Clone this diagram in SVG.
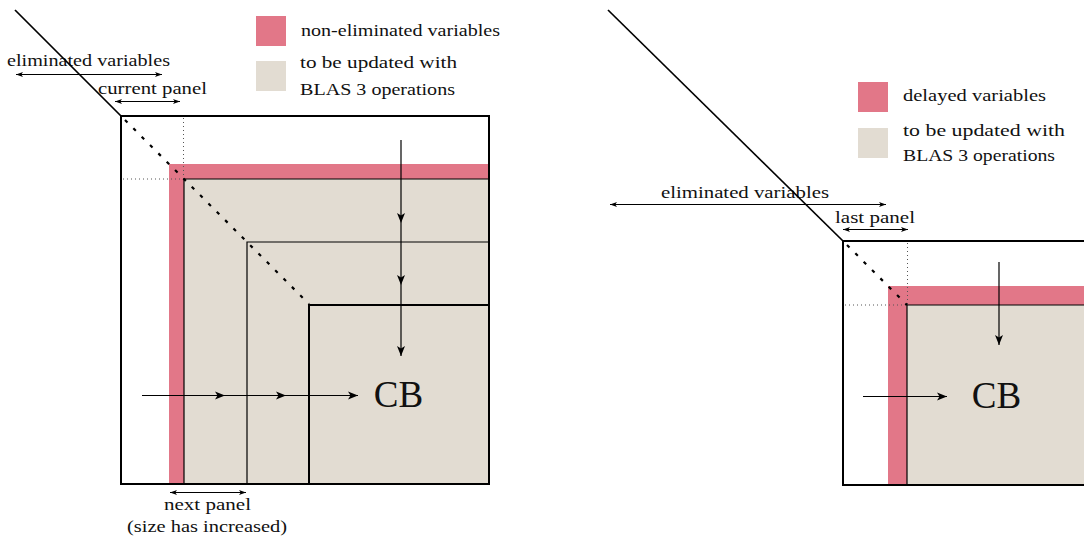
<svg xmlns="http://www.w3.org/2000/svg" width="1084" height="541" viewBox="0 0 1084 541">
<defs>
<style>
text{font-family:"Liberation Serif",serif;fill:#111;font-size:17.5px}
.cb{font-size:37px}
.thick{fill:none;stroke:#000;stroke-width:2}
.thin{fill:none;stroke:#000;stroke-width:1.2}
.pink{fill:#E27788}
.beige{fill:#E2DCD2}
.dash{fill:none;stroke:#000;stroke-width:2.2;stroke-dasharray:3.5 8.3}
.dot{fill:none;stroke:#555;stroke-width:1;stroke-dasharray:1 3}
.arr{fill:none;stroke:#000;stroke-width:1.2}
.dim{fill:none;stroke:#000;stroke-width:1}
.diag{fill:none;stroke:#000;stroke-width:1.7}
</style>
<marker id="ah" viewBox="0 0 10 10" refX="10" refY="5" markerWidth="10" markerHeight="10" markerUnits="userSpaceOnUse" orient="auto">
<path d="M0,1 L10,5 L0,9 L2.5,5 Z" fill="#000"/>
</marker>
<marker id="sh" viewBox="0 0 10 10" refX="10" refY="5" markerWidth="7" markerHeight="7" markerUnits="userSpaceOnUse" orient="auto-start-reverse">
<path d="M0,1.5 L10,5 L0,8.5 L2.5,5 Z" fill="#000"/>
</marker>
</defs>
<rect width="1084" height="541" fill="#fff"/>

<!-- LEFT PANEL -->
<g id="left-matrix">
<rect class="pink" x="169" y="164" width="320" height="320"/>
<rect class="beige" x="184" y="179" width="305" height="305"/>
<path class="thin" d="M184,484 V179 H489"/>
<path class="thin" d="M247,484 V242 H489"/>
<path class="thick" d="M309,484 V305 H489"/>
<line class="dot" x1="183.5" y1="118" x2="183.5" y2="179"/>
<line class="dot" x1="123" y1="179" x2="184" y2="179"/>
<line class="dash" x1="125" y1="120" x2="309" y2="304"/>
<rect class="thick" x="121" y="116" width="368" height="368"/>
<text class="cb" x="398.5" y="406.5" text-anchor="middle" font-family="Liberation Serif">CB</text>
</g>
<g id="left-legend" font-family="Liberation Serif">
<rect class="pink" x="256" y="16" width="30" height="30"/>
<text x="301" y="35.5" textLength="199" lengthAdjust="spacingAndGlyphs">non-eliminated variables</text>
<rect class="beige" x="256" y="61" width="30" height="30"/>
<text x="300" y="68" textLength="157" lengthAdjust="spacingAndGlyphs">to be updated with</text>
<text x="300" y="94.5" textLength="155" lengthAdjust="spacingAndGlyphs">BLAS 3 operations</text>
</g>
<g id="left-labels" font-family="Liberation Serif">
<text x="7" y="66" textLength="163" lengthAdjust="spacingAndGlyphs">eliminated variables</text>
<text x="98" y="94" textLength="109" lengthAdjust="spacingAndGlyphs">current panel</text>
<text x="164" y="509.5" textLength="87" lengthAdjust="spacingAndGlyphs">next panel</text>
<text x="127" y="532" textLength="160" lengthAdjust="spacingAndGlyphs">(size has increased)</text>
</g>

<!-- RIGHT PANEL -->
<g id="right-matrix">
<rect class="pink" x="888" y="286" width="200" height="200"/>
<rect class="beige" x="907" y="305" width="180" height="180"/>
<path class="thin" d="M907,485 V305 H1090"/>
<line class="dot" x1="907.5" y1="243" x2="907.5" y2="305"/>
<line class="dot" x1="845" y1="305" x2="907" y2="305"/>
<line class="dash" x1="847" y1="245" x2="907" y2="305"/>
<rect class="thick" x="843" y="241" width="260" height="244"/>
<text class="cb" x="996.5" y="408" text-anchor="middle" font-family="Liberation Serif">CB</text>
</g>
<g id="right-legend" font-family="Liberation Serif">
<rect class="pink" x="858" y="82" width="30" height="30"/>
<text x="903" y="101" textLength="143" lengthAdjust="spacingAndGlyphs">delayed variables</text>
<rect class="beige" x="858" y="128" width="30" height="30"/>
<text x="903" y="136" textLength="162" lengthAdjust="spacingAndGlyphs">to be updated with</text>
<text x="903" y="160.5" textLength="152" lengthAdjust="spacingAndGlyphs">BLAS 3 operations</text>
</g>
<g id="right-labels" font-family="Liberation Serif">
<text x="661" y="197.5" textLength="168" lengthAdjust="spacingAndGlyphs">eliminated variables</text>
<text x="835" y="222.5" textLength="80" lengthAdjust="spacingAndGlyphs">last panel</text>
</g>

<!-- CONNECTORS -->
<g id="connectors">
<line class="diag" x1="15" y1="10" x2="121" y2="116"/>
<line class="diag" x1="608" y1="10" x2="843" y2="241"/>
<line class="dim" x1="16" y1="74.5" x2="162" y2="74.5" marker-start="url(#sh)" marker-end="url(#sh)"/>
<line class="dim" x1="115" y1="101.5" x2="180" y2="101.5" marker-start="url(#sh)" marker-end="url(#sh)"/>
<line class="dim" x1="170" y1="492.5" x2="246" y2="492.5" marker-start="url(#sh)" marker-end="url(#sh)"/>
<line class="dim" x1="610" y1="204.5" x2="886" y2="204.5" marker-start="url(#sh)" marker-end="url(#sh)"/>
<line class="dim" x1="843" y1="229.5" x2="908" y2="229.5" marker-start="url(#sh)" marker-end="url(#sh)"/>
<line class="arr" x1="401" y1="140" x2="401" y2="223" marker-end="url(#ah)"/>
<line class="arr" x1="401" y1="223" x2="401" y2="285" marker-end="url(#ah)"/>
<line class="arr" x1="401" y1="285" x2="401" y2="356" marker-end="url(#ah)"/>
<line class="arr" x1="142" y1="395.5" x2="225" y2="395.5" marker-end="url(#ah)"/>
<line class="arr" x1="225" y1="395.5" x2="286" y2="395.5" marker-end="url(#ah)"/>
<line class="arr" x1="286" y1="395.5" x2="358" y2="395.5" marker-end="url(#ah)"/>
<line class="arr" x1="999" y1="262" x2="999" y2="345" marker-end="url(#ah)"/>
<line class="arr" x1="863" y1="396.5" x2="947" y2="396.5" marker-end="url(#ah)"/>
</g>
</svg>
